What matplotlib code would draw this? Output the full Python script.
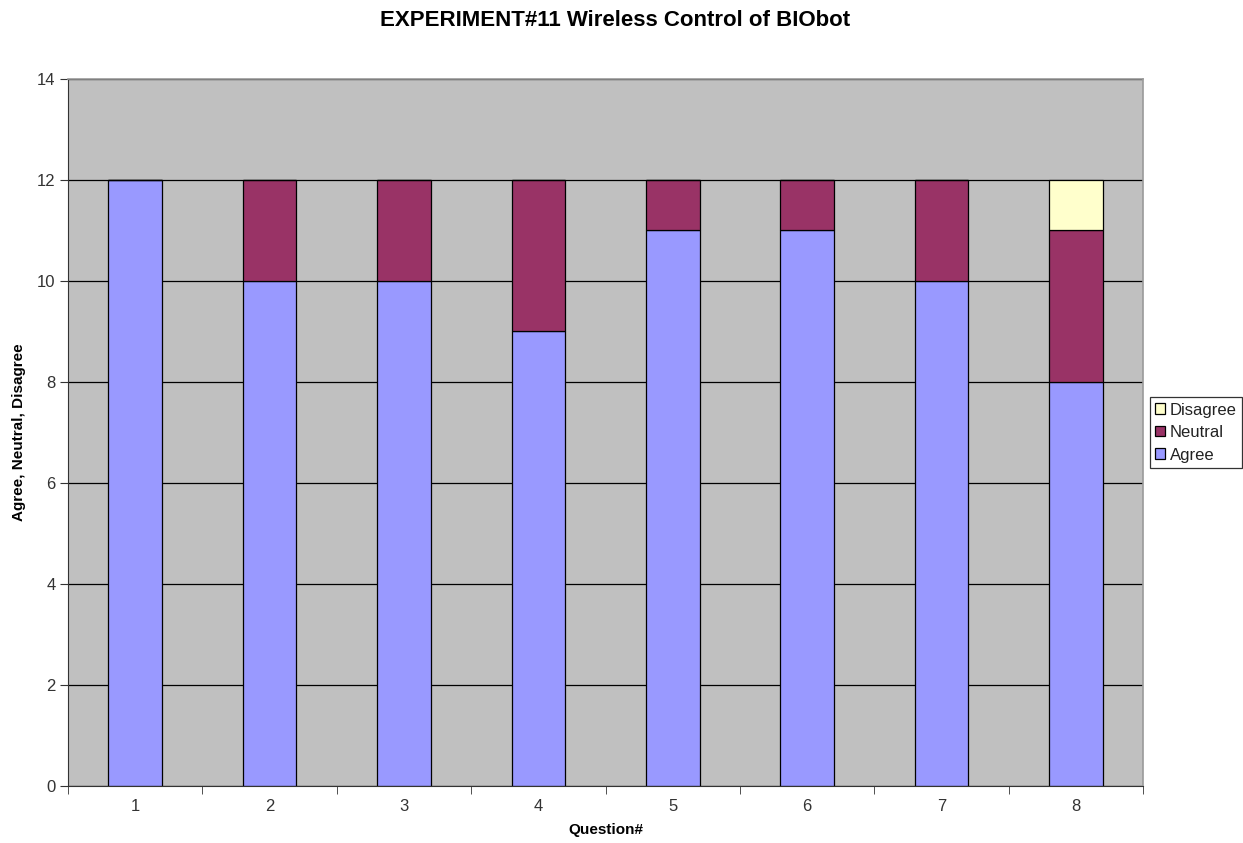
import numpy as np
import matplotlib.pyplot as plt

# survey results per question
questions = ["1", "2", "3", "4", "5", "6", "7", "8"]
agree = [12, 10, 10, 9, 11, 11, 10, 8]
neutral = [0, 2, 2, 3, 1, 1, 2, 3]
disagree = [0, 0, 0, 0, 0, 0, 0, 1]

plt.rcParams['font.family'] = ['Liberation Sans', 'DejaVu Sans']

fig = plt.figure(figsize=(12.43, 8.43), dpi=100)
ax = fig.add_axes([0.0547, 0.0676, 0.865, 0.8387])
ax.set_facecolor('#c0c0c0')

x = np.arange(1, len(questions) + 1)
agree = np.array(agree)
neutral = np.array(neutral)
disagree = np.array(disagree)

ax.set_axisbelow(True)
ax.yaxis.grid(True, color='black', linewidth=0.9)

bw = 0.4
ax.bar(x, agree, bw, color='#9999ff', edgecolor='black', linewidth=0.9, label='Agree')
ax.bar(x, neutral, bw, bottom=agree, color='#993366', edgecolor='black', linewidth=0.9, label='Neutral')
ax.bar(x, disagree, bw, bottom=agree + neutral, color='#ffffcc', edgecolor='black', linewidth=0.9, label='Disagree')

ax.set_xlim(0.5, len(questions) + 0.5)
ax.set_ylim(0, 14)
ax.set_yticks(range(0, 15, 2))
ax.set_xticks(x)
ax.set_xticklabels(questions)
ax.set_xticks(np.arange(0.5, len(questions) + 1, 1), minor=True)
ax.tick_params(axis='x', which='major', length=0, pad=9, labelsize=12, labelcolor='#333333')
ax.tick_params(axis='x', which='minor', length=6, direction='out', color='#333333')
ax.tick_params(axis='y', length=6, direction='out', labelsize=12, pad=3,
               color='#333333', labelcolor='#333333')

ax.spines['top'].set_color('#9a9a9a')
ax.spines['right'].set_color('#9a9a9a')
ax.spines['top'].set_linewidth(1.2)
ax.spines['right'].set_linewidth(1.2)
ax.spines['left'].set_color('#333333')
ax.spines['bottom'].set_color('#333333')

ax.set_xlabel('Question#', fontsize=11, fontweight='bold', labelpad=7)
ax.set_ylabel('Agree, Neutral, Disagree', fontsize=11, fontweight='bold', labelpad=8)
fig.suptitle('EXPERIMENT#11 Wireless Control of BIObot', fontsize=16, fontweight='bold',
             x=0.495, y=0.988)

handles, labels = ax.get_legend_handles_labels()
leg = ax.legend(handles[::-1], labels[::-1], loc='center left', bbox_to_anchor=(1.006, 0.5),
                frameon=True, fancybox=False, edgecolor='black', fontsize=12,
                handlelength=0.6, handleheight=0.6, handletextpad=0.25, borderpad=0.35,
                labelspacing=0.45, borderaxespad=0)
leg.get_frame().set_linewidth(0.9)
for t in leg.get_texts():
    t.set_color('#222222')

fig.savefig('out.png', dpi=100)
